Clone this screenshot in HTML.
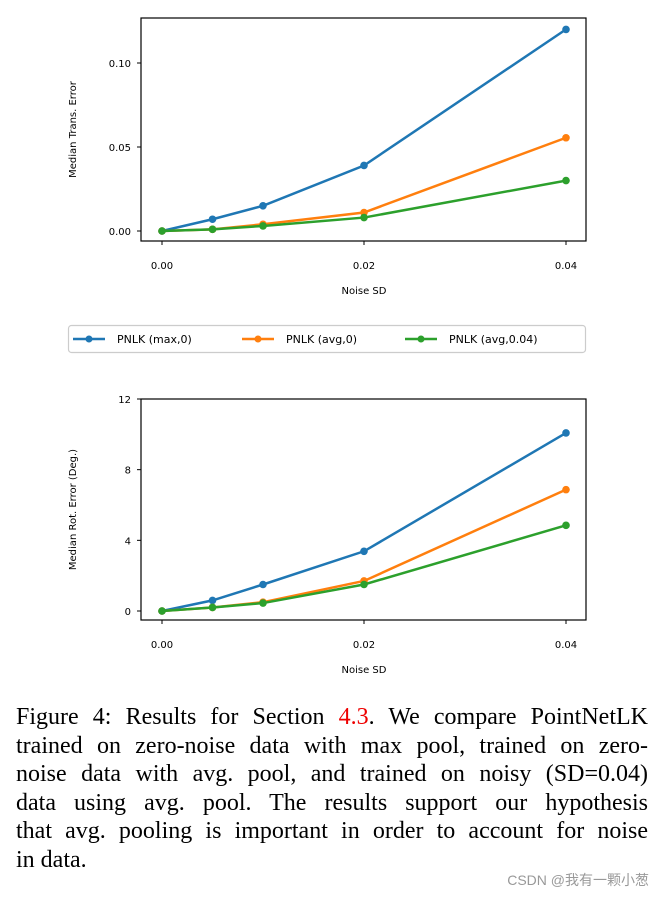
<!DOCTYPE html>
<html><head><meta charset="utf-8"><style>
body{margin:0;background:#fff;width:663px;height:900px;overflow:hidden;position:relative}
svg{position:absolute;left:0;top:0}
#cap{position:absolute;left:16px;top:703px;width:632px;font-family:"Liberation Serif",serif;font-size:24px;line-height:28.6px;color:#000}
#cap div{text-align:justify;text-align-last:justify;white-space:nowrap}
#cap div.last{text-align-last:left}
#wm{position:absolute;right:14px;top:870px;font-family:"Liberation Sans","Noto Sans CJK SC",sans-serif;font-size:14px;color:#999}
</style></head><body>
<svg id="chart" width="663" height="700"></svg>
<div id="cap">
<div>Figure 4: Results for Section <span style="color:#e00">4.3</span>. We compare PointNetLK</div>
<div>trained on zero-noise data with max pool, trained on zero-</div>
<div>noise data with avg. pool, and trained on noisy (SD=0.04)</div>
<div>data using avg. pool. The results support our hypothesis</div>
<div>that avg. pooling is important in order to account for noise</div>
<div class="last">in data.</div>
</div>
<div id="wm">CSDN @我有一颗小葱</div>
<script>
const xs=[0,0.005,0.01,0.02,0.04];
const xTicks=[0,0.02,0.04];
const xTickLabels=["0.00","0.02","0.04"];
const seriesNames=["PNLK (max,0)","PNLK (avg,0)","PNLK (avg,0.04)"];
const colors=["#1f77b4","#ff7f0e","#2ca02c"];
const transMax=[0,0.007,0.015,0.039,0.12];
const transAvg=[0,0.001,0.004,0.011,0.0555];
const transNoisy=[0,0.001,0.003,0.008,0.030];
const rotMax=[0,0.6,1.5,3.38,10.08];
const rotAvg=[0,0.2,0.5,1.7,6.87];
const rotNoisy=[0,0.2,0.45,1.5,4.85];
const transTicks=[0,0.05,0.10];
const transTickLabels=["0.00","0.05","0.10"];
const rotTicks=[0,4,8,12];
const rotTickLabels=["0","4","8","12"];
const NS="http://www.w3.org/2000/svg";
const svg=document.getElementById('chart');
function mk(t,a,p){const e=document.createElementNS(NS,t);for(const k in a)e.setAttribute(k,a[k]);(p||svg).appendChild(e);return e;}
function txt(s,a,p){const e=mk('text',Object.assign({'font-family':'DejaVu Sans, Liberation Sans, sans-serif','font-size':10,fill:'#000'},a),p);e.textContent=s;return e;}
function chart(name,top,bot,yv0,yv1,yp0,yp1,yticks,ylabels,ytitle,series){
  const g=mk('g',{});
  
  
  const L=141,R=586;
  const X=v=>162+(566-162)*v/0.04;
  const Y=v=>yp0+(yp1-yp0)*(v-yv0)/(yv1-yv0);
  xTicks.forEach((t,i)=>{mk('line',{x1:X(t),x2:X(t),y1:bot,y2:bot+4,stroke:'#000','stroke-width':1},g);
    const l=txt(xTickLabels[i],{x:X(t),y:bot+28,'text-anchor':'middle'},g);
    
    });
  yticks.forEach((t,i)=>{mk('line',{x1:L-4,x2:L,y1:Y(t),y2:Y(t),stroke:'#000','stroke-width':1},g);
    const l=txt(ylabels[i],{x:L-10,y:Y(t)+4,'text-anchor':'end'},g);
    
    });
  const xt=txt('Noise SD',{x:364,y:bot+53,'text-anchor':'middle'},g);
  
  
  const cy=(top+bot)/2;
  const yt=txt(ytitle,{x:76,y:cy,'text-anchor':'middle',transform:`rotate(-90 76 ${cy})`},g);
  
  
  series.forEach((s,si)=>{
    const pl=mk('polyline',{points:s.map((v,i)=>X(xs[i])+','+Y(v)).join(' '),fill:'none',stroke:colors[si],'stroke-width':2.5},g);
    
    
    s.forEach((v,i)=>{const c=mk('circle',{cx:X(xs[i]),cy:Y(v),r:3.8,fill:colors[si]},g);
      
      });
  });
  const fr=mk('rect',{x:L,y:top,width:R-L,height:bot-top,fill:'none',stroke:'#000','stroke-width':1.2},g);
  
  
}
chart('trans-error-chart',18,241,0,0.10,231,63,transTicks,transTickLabels,'Median Trans. Error',[transMax,transAvg,transNoisy]);
chart('rot-error-chart',399,620,0,12,611,399,rotTicks,rotTickLabels,'Median Rot. Error (Deg.)',[rotMax,rotAvg,rotNoisy]);
const lg=mk('g',{});


mk('rect',{x:68.5,y:325.5,width:517,height:27,rx:3,fill:'#fff',stroke:'#ccc','stroke-width':1.2},lg);
const lx=[73,242,405];
seriesNames.forEach((n,i)=>{
  const e=mk('g',{},lg);
  
  
  mk('line',{x1:lx[i],x2:lx[i]+32,y1:339,y2:339,stroke:colors[i],'stroke-width':2.5},e);
  mk('circle',{cx:lx[i]+16,cy:339,r:3.5,fill:colors[i]},e);
  txt(n,{x:lx[i]+44,y:343,'font-size':11},e);
});
</script>
</body></html>
